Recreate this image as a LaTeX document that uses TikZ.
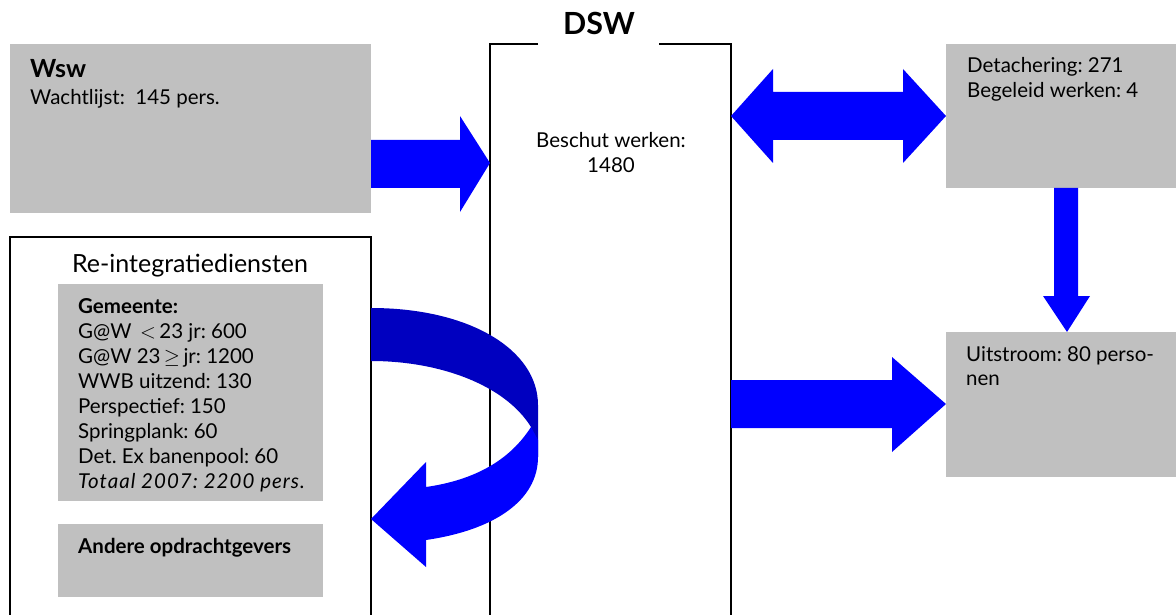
\documentclass[tikz,border=0pt]{standalone}
\usepackage{fontspec}
\setmainfont{Lato}
\frenchspacing
\definecolor{boxgray}{HTML}{C0C0C0}
\definecolor{arrowblue}{HTML}{0000FF}
\definecolor{arrowdark}{HTML}{0000C0}
\tikzset{
  graybox/.style={fill=boxgray, draw=none, anchor=north west, inner sep=0pt, outer sep=0pt},
  frameline/.style={draw=black, line width=1.6pt},
  txt/.style={anchor=base west, inner sep=0pt, font=\fontsize{20.5}{25}\selectfont},
  ctxt/.style={anchor=base, inner sep=0pt, font=\fontsize{20.5}{25}\selectfont},
  blockarrow/.style={fill=arrowblue, draw=none},
}
\begin{document}
\begin{tikzpicture}[x=1pt,y=-1pt]
\useasboundingbox (0,0) rectangle (1176,615);
% boxes
\node[graybox, minimum width=361, minimum height=169] (wsw) at (10,44) {};
\node[graybox, minimum width=230, minimum height=144] (det) at (946,44) {};
\node[graybox, minimum width=230, minimum height=145] (uit) at (946,332) {};
\node[graybox, minimum width=265, minimum height=217] (gem) at (58,284) {};
\node[graybox, minimum width=265, minimum height=73] (andere) at (58,524) {};
% DSW frame
\draw[frameline] (538,44) -- (490,44) -- (490,616);
\draw[frameline] (659,44) -- (731,44) -- (731,616);
% Re-integratie frame
\draw[frameline] (10,616) -- (10,237) -- (371,237) -- (371,616);
% texts
\node[txt, font=\fontsize{25}{25}\selectfont\bfseries] (wswt) at (30,78) {Wsw};
\node[txt] (wacht) at (30,105) {Wachtlijst:\ \ 145 pers.};
\node[anchor=base, inner sep=0pt, font=\fontsize{30.5}{30}\selectfont\bfseries] (dswt) at (599,35) {DSW};
\node[ctxt] (besch1) at (611,148) {Beschut werken:};
\node[ctxt] (besch2) at (611,173) {1480};
\node[txt] (det1) at (967,73) {Detachering: 271};
\node[txt] (det2) at (967,98) {Begeleid werken: 4};
\node[txt] (uit1) at (966,361) {Uitstroom: 80 perso-};
\node[txt] (uit2) at (966,385) {nen};
\node[ctxt, font=\fontsize{25}{25}\selectfont] (reint) at (190,272) {Re-integratiediensten};
\node[txt, font=\fontsize{20.5}{25}\selectfont\bfseries] (g0) at (78,313) {Gemeente:};
\node[txt] (g1) at (78,338) {G@W \,$<$\,23 jr: 600};
\node[txt] (g2) at (78,363) {G@W 23\,$\geq$\,jr: 1200};
\node[txt] (g3) at (78,388) {WWB uitzend: 130};
\node[txt] (g4) at (78,413) {Perspectief: 150};
\node[txt] (g5) at (78,438) {Springplank: 60};
\node[txt] (g6) at (78,463) {Det. Ex banenpool: 60};
\node[txt, font=\fontsize{20.5}{25}\selectfont\itshape\addfontfeature{LetterSpace=5}] (g7) at (78,488) {Totaal 2007: 2200 pers.};
\node[txt, font=\fontsize{20.5}{25}\selectfont\bfseries] (and1) at (78,553) {Andere opdrachtgevers};
% arrow Wsw -> DSW
\fill[blockarrow] (371,140) -- (460,140) -- (460,116) -- (490,163) -- (460,212) -- (460,188) -- (371,188) -- cycle;
% double arrow DSW <-> Detachering
\fill[blockarrow] (731,116) -- (773,69) -- (773,92) -- (903,92) -- (903,69) -- (946,116) -- (903,163) -- (903,140) -- (773,140) -- (773,163) -- cycle;
% down arrow Detachering -> Uitstroom
\fill[blockarrow] (1054,188) -- (1078,188) -- (1078,296) -- (1090,296) -- (1067,332) -- (1043,296) -- (1054,296) -- cycle;
% arrow DSW -> Uitstroom
\fill[blockarrow] (731,380) -- (892,380) -- (892,357) -- (946,404) -- (892,452) -- (892,428) -- (731,428) -- cycle;
% curved arrow
\fill[arrowdark] (371,308) .. controls (470,308) and (538,350) .. (538,405) -- (538,457) -- (531,427) .. controls (505,385) and (440,361) .. (371,361) -- cycle;
\fill[arrowblue] (531,427) .. controls (510,460) and (475,480) .. (426,487) -- (426,462) -- (371,519) -- (426,567) -- (426,540) .. controls (495,530) and (538,500) .. (538,457) -- (538,440) -- cycle;
\end{tikzpicture}
\end{document}
